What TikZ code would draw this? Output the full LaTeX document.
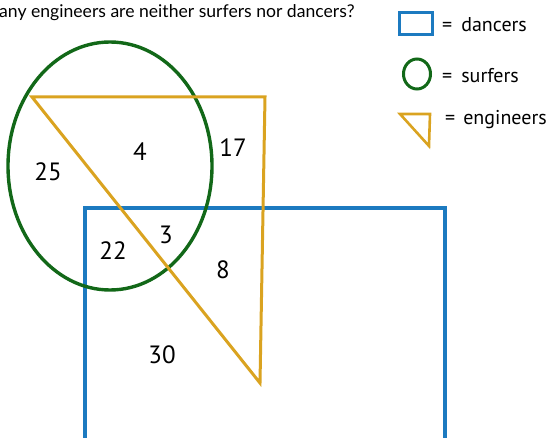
\documentclass[tikz,border=0pt]{standalone}
\usepackage{fontspec}
\setmainfont{PT Sans}
\newfontfamily\titlefont{Lato}
\definecolor{surfgreen}{RGB}{18,104,24}
\definecolor{enggold}{RGB}{218,163,32}
\definecolor{dancblue}{RGB}{28,122,192}
\begin{document}
\begin{tikzpicture}[x=1pt,y=-1pt,
  numlbl/.style={font=\fontsize{25}{27}\selectfont, inner sep=0pt},
  legtxt/.style={font=\fontsize{20}{22}\selectfont, anchor=west, inner sep=0pt},
  surfline/.style={draw=surfgreen, line width=3.4pt},
  engline/.style={draw=enggold, line width=3pt, line join=miter},
  dancline/.style={draw=dancblue, line width=3.8pt}]
\useasboundingbox (0,0) rectangle (549,438);
\clip (0,0) rectangle (549,438);
% title
\node[anchor=base west, inner sep=0pt, font=\titlefont\fontsize{17.6}{19}\selectfont] (title) at (-1,18) {any engineers are neither surfers nor dancers?};
% main diagram
\draw[dancline] (85,450) -- (85,208) -- (445,208) -- (445,450);
\draw[surfline] (110,166) ellipse [x radius=102, y radius=124];
\draw[engline] (32,97) -- (265,97) -- (260,383) -- cycle;
% numbers
\node[numlbl] (n25) at (48,172) {25};
\node[numlbl] (n4) at (140,152) {4};
\node[numlbl] (n17) at (233,148) {17};
\node[numlbl] (n3) at (166,235) {3};
\node[numlbl] (n22) at (113,251) {22};
\node[numlbl] (n8) at (223,270) {8};
\node[numlbl] (n30) at (162,355) {30};
% legend
\draw[dancline, line width=3pt] (399,13) rectangle (432,35);
\node[legtxt] (ld) at (442,25) {=\hspace{9pt}dancers};
\draw[surfline, line width=3pt] (417,74) ellipse [x radius=13.5, y radius=15];
\node[legtxt] (ls) at (442,76) {=\hspace{9pt}surfers};
\draw[engline, line width=2.6pt] (400,114) -- (430,114) -- (429,146) -- cycle;
\node[legtxt] (le) at (445,120) {=\hspace{8pt}engineers};
\end{tikzpicture}
\end{document}
